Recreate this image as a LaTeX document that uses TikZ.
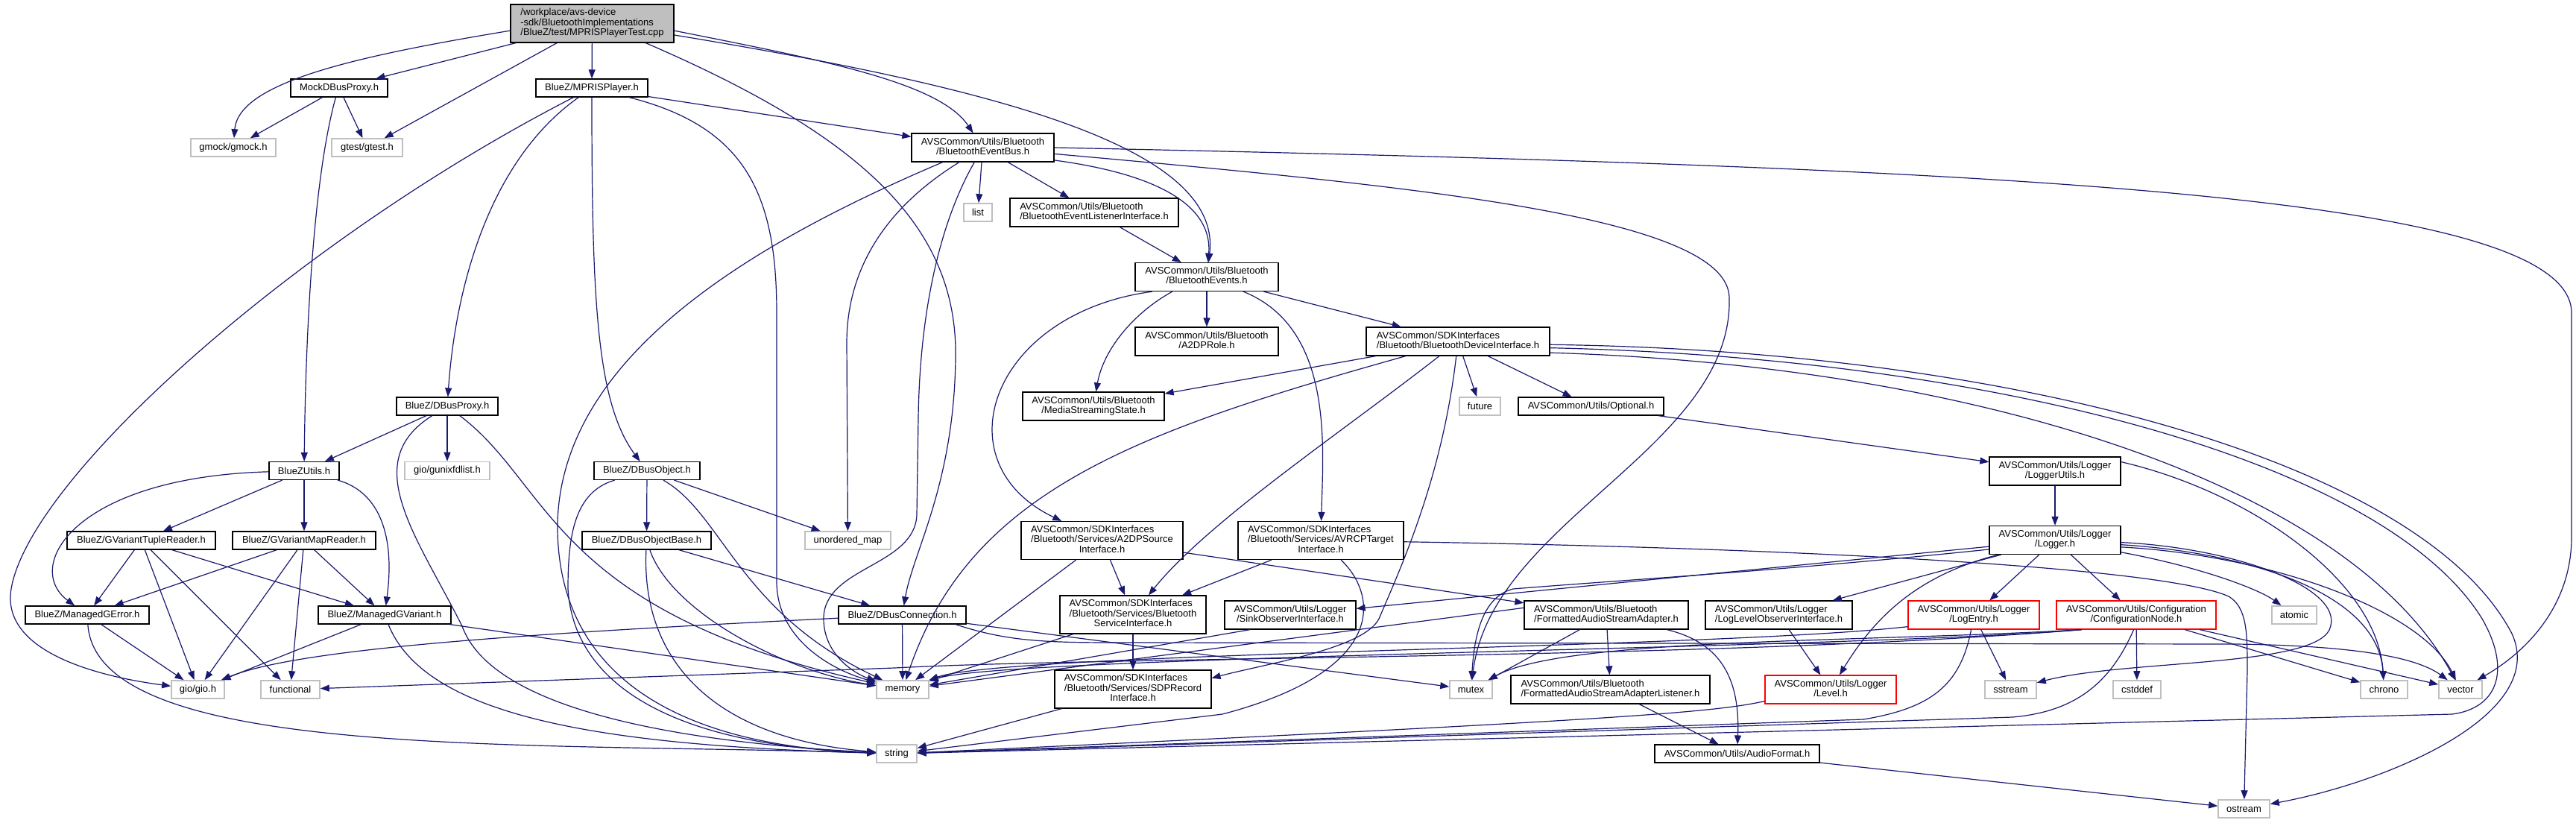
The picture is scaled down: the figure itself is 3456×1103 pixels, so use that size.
\documentclass[tikz,border=0pt]{standalone}
\usepackage{fontspec}
\setmainfont{Liberation Sans}
\usetikzlibrary{arrows.meta}
\definecolor{depblue}{RGB}{25,25,112}
\definecolor{sysgray}{RGB}{191,191,191}
% multi-line labels: left aligned, last line centred
\newcommand{\hdrlines}[1]{\begin{tabular}{@{}l@{}}#1\end{tabular}}
\newcommand{\hdrlast}[1]{\multicolumn{1}{@{}c@{}}{#1}}
\tikzset{
  hdr/.style={draw=black, fill=white, line width=0.6pt, inner sep=1pt, minimum height=12pt,
    font=\fontsize{6.5}{6.67}\selectfont},
  sys/.style={hdr, draw=sysgray, line width=0.8pt},
  trunc/.style={hdr, draw=red},
  root/.style={hdr, fill=sysgray},
  rows2/.style={minimum height=19pt},
  rows3/.style={minimum height=25.5pt},
  dep/.style={draw=depblue, line width=0.6pt, -{Triangle[length=6pt,width=4.5pt]}}
}

\begin{document}
\begin{tikzpicture}[x=0.5pt, y=-0.5pt]
        \useasboundingbox (0,0) rectangle (3456,1103);
        \fill[white] (0,0) rectangle (3456,1103);
        % Header-header
        \node[root, rows3, minimum width=109.5pt] (main) at (794.5,31.5) {\hdrlines{/workplace/avs-device\\-sdk/BluetoothImplementations\\/BlueZ/test/MPRISPlayerTest.cpp}};
        \node[hdr, minimum width=65pt] (mock) at (455,118) {MockDBusProxy.h};
        \node[hdr, minimum width=75pt] (mpris) at (794,118) {BlueZ/MPRISPlayer.h};
        \node[sys, minimum width=57pt] (gmock) at (313,198) {gmock/gmock.h};
        \node[sys, minimum width=47.5pt] (gtest) at (492.5,198) {gtest/gtest.h};
        \node[hdr, rows2, minimum width=95.5pt] (evbus) at (1318.5,198) {\hdrlines{AVSCommon/Utils/Bluetooth\\\hdrlast{/BluetoothEventBus.h}}};
        \node[sys, minimum width=19pt] (list) at (1312,285) {list};
        \node[hdr, rows2, minimum width=113pt] (evlist) at (1468,285) {\hdrlines{AVSCommon/Utils/Bluetooth\\\hdrlast{/BluetoothEventListenerInterface.h}}};
        \node[hdr, rows2, minimum width=96pt] (events) at (1619,371.5) {\hdrlines{AVSCommon/Utils/Bluetooth\\\hdrlast{/BluetoothEvents.h}}};
        \node[hdr, rows2, minimum width=96pt] (a2dprole) at (1619,458) {\hdrlines{AVSCommon/Utils/Bluetooth\\\hdrlast{/A2DPRole.h}}};
        \node[hdr, rows2, minimum width=123pt] (devif) at (1956,458) {\hdrlines{AVSCommon/SDKInterfaces\\\hdrlast{/Bluetooth/BluetoothDeviceInterface.h}}};
        \node[hdr, minimum width=68pt] (dbusproxy) at (600,545) {BlueZ/DBusProxy.h};
        \node[hdr, rows2, minimum width=95pt] (mss) at (1467,545) {\hdrlines{AVSCommon/Utils/Bluetooth\\\hdrlast{/MediaStreamingState.h}}};
        \node[sys, minimum width=27.5pt] (future) at (1985.5,545) {future};
        \node[hdr, minimum width=97.5pt] (optional) at (2134.5,545) {AVSCommon/Utils/Optional.h};
        \node[hdr, minimum width=47pt] (bluezutils) at (408,631.5) {BlueZUtils.h};
        \node[sys, minimum width=57pt] (gunixfd) at (600,631.5) {gio/gunixfdlist.h};
        \node[hdr, minimum width=71pt] (dbusobj) at (868,631.5) {BlueZ/DBusObject.h};
        \node[hdr, rows2, minimum width=88pt] (loggerutils) at (2757,632) {\hdrlines{AVSCommon/Utils/Logger\\\hdrlast{/LoggerUtils.h}}};
        \node[hdr, minimum width=99.5pt] (tuple) at (189.5,725) {BlueZ/GVariantTupleReader.h};
        \node[hdr, minimum width=96pt] (mapreader) at (408,725) {BlueZ/GVariantMapReader.h};
        \node[hdr, minimum width=86.5pt] (dbusobjbase) at (867.5,725) {BlueZ/DBusObjectBase.h};
        \node[sys, minimum width=57.5pt] (umap) at (1137.5,725) {unordered\_map};
        \node[hdr, rows3, minimum width=108.5pt] (a2dpsrc) at (1478.5,725) {\hdrlines{AVSCommon/SDKInterfaces\\/Bluetooth/Services/A2DPSource\\\hdrlast{Interface.h}}};
        \node[hdr, rows3, minimum width=111pt] (avrcp) at (1772,725) {\hdrlines{AVSCommon/SDKInterfaces\\/Bluetooth/Services/AVRCPTarget\\\hdrlast{Interface.h}}};
        \node[hdr, rows2, minimum width=88pt] (logger) at (2757,724.5) {\hdrlines{AVSCommon/Utils/Logger\\\hdrlast{/Logger.h}}};
        \node[hdr, minimum width=83pt] (gerror) at (117,825) {BlueZ/ManagedGError.h};
        \node[hdr, minimum width=89pt] (gvariant) at (516,825) {BlueZ/ManagedGVariant.h};
        \node[hdr, minimum width=85.5pt] (dbusconn) at (1210.5,825) {BlueZ/DBusConnection.h};
        \node[hdr, rows3, minimum width=98pt] (svcif) at (1520,824.5) {\hdrlines{AVSCommon/SDKInterfaces\\/Bluetooth/Services/Bluetooth\\\hdrlast{ServiceInterface.h}}};
        \node[hdr, rows2, minimum width=88pt] (sinkobs) at (1731,825) {\hdrlines{AVSCommon/Utils/Logger\\\hdrlast{/SinkObserverInterface.h}}};
        \node[hdr, rows2, minimum width=110pt] (fasa) at (2155,825) {\hdrlines{AVSCommon/Utils/Bluetooth\\\hdrlast{/FormattedAudioStreamAdapter.h}}};
        \node[hdr, rows2, minimum width=98.5pt] (loglevel) at (2386.5,825) {\hdrlines{AVSCommon/Utils/Logger\\\hdrlast{/LogLevelObserverInterface.h}}};
        \node[trunc, rows2, minimum width=88pt] (logentry) at (2648,825) {\hdrlines{AVSCommon/Utils/Logger\\\hdrlast{/LogEntry.h}}};
        \node[trunc, rows2, minimum width=107pt] (confnode) at (2866,825) {\hdrlines{AVSCommon/Utils/Configuration\\\hdrlast{/ConfigurationNode.h}}};
        \node[sys, minimum width=30pt] (atomic) at (3078,825) {atomic};
        \node[sys, minimum width=35.5pt] (gio) at (265.5,925) {gio/gio.h};
        \node[sys, minimum width=39.5pt] (functional) at (389.5,925) {functional};
        \node[sys, minimum width=35pt] (memory) at (1211,925) {memory};
        \node[hdr, rows3, minimum width=105pt] (sdprec) at (1520,924.5) {\hdrlines{AVSCommon/SDKInterfaces\\/Bluetooth/Services/SDPRecord\\\hdrlast{Interface.h}}};
        \node[sys, minimum width=28.5pt] (mutex) at (1973.5,925) {mutex};
        \node[hdr, rows2, minimum width=133.5pt] (fasal) at (2160.5,925) {\hdrlines{AVSCommon/Utils/Bluetooth\\\hdrlast{/FormattedAudioStreamAdapterListener.h}}};
        \node[trunc, rows2, minimum width=88pt] (level) at (2456,925) {\hdrlines{AVSCommon/Utils/Logger\\\hdrlast{/Level.h}}};
        \node[sys, minimum width=34.5pt] (sstream) at (2697.5,925) {sstream};
        \node[sys, minimum width=32pt] (cstddef) at (2867,925) {cstddef};
        \node[sys, minimum width=31.5pt] (chrono) at (3198.5,925) {chrono};
        \node[sys, minimum width=29pt] (vector) at (3301,925) {vector};
        \node[sys, minimum width=27pt] (string) at (1203,1011) {string};
        \node[hdr, minimum width=110.5pt] (audiofmt) at (2330.5,1011) {AVSCommon/Utils/AudioFormat.h};
        \node[sys, minimum width=34.5pt] (ostream) at (3010.5,1085) {ostream};

        % Include dari file test
        \draw[dep] (main.185) .. controls (480,75) and (320,110) .. (gmock);
        \draw[dep] (main) -- (mock);
        \draw[dep] (main) -- (gtest);
        \draw[dep] (main) -- (mpris);
        \draw[dep] (main.-5) .. controls (1100,80) and (1260,110) .. (evbus);
        \draw[dep] (main.-8) .. controls (1350,120) and (1640,200) .. (events);
        \draw[dep] (main.340) .. controls (1150,180) and (1285,300) .. (1282,480) .. controls (1280,650) and (1225,740) .. (dbusconn);
        \draw[dep] (mock) -- (gmock);
        \draw[dep] (mock) -- (gtest);
        \draw[dep] (mock.-110) .. controls (420,240) and (410,450) .. (bluezutils);
        % MPRISPlayer dan event bus
        \draw[dep] (mpris) .. controls (400,320) and (40,640) .. (15,790) .. controls (0,880) and (150,910) .. (gio);
        \draw[dep] (mpris) .. controls (650,220) and (610,400) .. (dbusproxy);
        \draw[dep] (mpris) .. controls (794,400) and (800,540) .. (dbusobj);
        \draw[dep] (mpris) .. controls (1000,170) and (1042,260) .. (1042,420) -- (1042,780) .. controls (1042,860) and (1120,900) .. (memory);
        \draw[dep] (mpris) -- (evbus);
        \draw[dep] (evbus) -- (list);
        \draw[dep] (evbus) -- (evlist);
        \draw[dep] (evbus.-10) .. controls (1600,240) and (1625,300) .. (events);
        \draw[dep] (evbus) .. controls (1170,290) and (1136,380) .. (1136,460) -- (umap);
        \draw[dep] (evbus) .. controls (1260,300) and (1234,420) .. (1232,560) -- (1230,690) .. controls (1228,760) and (1105,760) .. (1105,830) .. controls (1105,880) and (1150,905) .. (memory);
        \draw[dep] (evbus.-160) .. controls (1000,330) and (755,480) .. (748,700) .. controls (745,900) and (900,1000) .. (string);
        \draw[dep] (evbus.-5) .. controls (1900,250) and (2320,290) .. (2320,400) .. controls (2325,600) and (2000,700) .. (mutex);
        \draw[dep] (evbus.east) .. controls (2700,225) and (3450,260) .. (3450,420) -- (3450,720) .. controls (3450,820) and (3380,880) .. (vector);
        \draw[dep] (evlist) -- (events);
        % BluetoothEvents
        \draw[dep] (events.-165) .. controls (1330,420) and (1260,620) .. (a2dpsrc);
        \draw[dep] (events.-157) .. controls (1520,420) and (1480,470) .. (mss);
        \draw[dep] (events) -- (a2dprole);
        \draw[dep] (events) .. controls (1790,440) and (1775,600) .. (avrcp);
        \draw[dep] (events) -- (devif);
        % BluetoothDeviceInterface
        \draw[dep] (devif) -- (mss);
        \draw[dep] (devif) .. controls (1520,580) and (1300,660) .. (memory);
        \draw[dep] (devif) .. controls (1800,580) and (1620,700) .. (svcif);
        \draw[dep] (devif) .. controls (1935,640) and (1880,760) .. (1850,830) .. controls (1830,870) and (1700,890) .. (sdprec.8);
        \draw[dep] (devif) -- (future);
        \draw[dep] (devif) -- (optional);
        \draw[dep] (devif.-2) .. controls (2700,470) and (3250,620) .. (3370,850) .. controls (3420,960) and (3200,1050) .. (ostream);
        \draw[dep] (devif.-4) .. controls (2680,480) and (3200,620) .. (3330,830) .. controls (3370,900) and (3350,950) .. (3290,958) -- (string);
        \draw[dep] (devif.-7) .. controls (2650,490) and (3150,650) .. (vector);
        \draw[dep] (optional) -- (loggerutils);
        % Logger
        \draw[dep] (loggerutils) -- (logger);
        \draw[dep] (loggerutils.8) .. controls (3020,660) and (3190,780) .. (chrono);
        \draw[dep] (logger) -- (sinkobs);
        \draw[dep] (logger.-172) .. controls (2400,765) and (2150,780) .. (2030,790) .. controls (1990,800) and (1978,850) .. (mutex);
        \draw[dep] (logger) -- (loglevel);
        \draw[dep] (logger) .. controls (2580,770) and (2520,820) .. (level);
        \draw[dep] (logger) -- (logentry);
        \draw[dep] (logger) -- (confnode);
        \draw[dep] (logger) .. controls (2950,760) and (3030,790) .. (atomic);
        \draw[dep] (logger.-2) .. controls (3000,735) and (3150,790) .. (3125,845) .. controls (3100,895) and (2850,885) .. (sstream);
        \draw[dep] (logger.-4) .. controls (3000,740) and (3190,790) .. (chrono);
        \draw[dep] (logger.-6) .. controls (3050,745) and (3250,820) .. (vector);
        \draw[dep] (confnode.-165) .. controls (2500,870) and (1350,880) .. (memory);
        \draw[dep] (confnode.-165) .. controls (2500,862) and (2100,855) .. (mutex);
        \draw[dep] (confnode.-165) .. controls (2300,885) and (1500,880) .. (1200,896) -- (functional);
        \draw[dep] (confnode.-100) .. controls (2830,920) and (2780,955) .. (2700,962) -- (string);
        \draw[dep] (confnode) -- (cstddef);
        \draw[dep] (confnode) -- (chrono);
        \draw[dep] (confnode) -- (vector);
        \draw[dep] (logentry) -- (sstream);
        \draw[dep] (logentry.-100) .. controls (2630,920) and (2590,950) .. (2500,965) -- (string);
        \draw[dep] (logentry.-170) .. controls (2300,870) and (1350,875) .. (memory);
        \draw[dep] (level.-170) .. controls (2300,955) and (2200,965) .. (string);
        \draw[dep] (loglevel) -- (level);
        \draw[dep] (sinkobs.-160) -- (memory);
        % Services dan audio
        \draw[dep] (svcif) -- (memory);
        \draw[dep] (svcif) -- (sdprec);
        \draw[dep] (sdprec) -- (string);
        \draw[dep] (a2dpsrc) -- (memory);
        \draw[dep] (a2dpsrc) -- (svcif);
        \draw[dep] (a2dpsrc) -- (fasa);
        \draw[dep] (avrcp) -- (svcif);
        \draw[dep] (avrcp) .. controls (1850,800) and (1860,900) .. (1640,958) -- (string);
        \draw[dep] (avrcp) .. controls (2400,735) and (2900,760) .. (2990,800) .. controls (3015,815) and (3015,850) .. (3015,900) -- (ostream);
        \draw[dep] (fasa.175) -- (memory);
        \draw[dep] (fasa) -- (mutex);
        \draw[dep] (fasa) -- (fasal);
        \draw[dep] (fasa) .. controls (2300,860) and (2335,900) .. (audiofmt);
        \draw[dep] (fasal) -- (audiofmt);
        \draw[dep] (audiofmt) -- (ostream);
        % BlueZ (kiri)
        \draw[dep] (dbusproxy) -- (bluezutils);
        \draw[dep] (dbusproxy) .. controls (480,620) and (560,720) .. (620,840) .. controls (660,950) and (900,995) .. (string);
        \draw[dep] (dbusproxy) -- (gunixfd);
        \draw[dep] (dbusproxy) .. controls (740,650) and (740,820) .. (memory);
        \draw[dep] (bluezutils) .. controls (100,640) and (30,760) .. (gerror);
        \draw[dep] (bluezutils) -- (tuple);
        \draw[dep] (bluezutils) -- (mapreader);
        \draw[dep] (bluezutils) .. controls (510,660) and (530,720) .. (gvariant);
        \draw[dep] (tuple) -- (gerror);
        \draw[dep] (tuple) -- (gio);
        \draw[dep] (tuple) -- (functional);
        \draw[dep] (tuple) -- (gvariant);
        \draw[dep] (mapreader) -- (gerror);
        \draw[dep] (mapreader) -- (gio);
        \draw[dep] (mapreader) -- (functional);
        \draw[dep] (mapreader) -- (gvariant);
        \draw[dep] (gerror) .. controls (130,1020) and (700,995) .. (string);
        \draw[dep] (gerror) -- (gio);
        \draw[dep] (gvariant) -- (gio);
        \draw[dep] (gvariant) .. controls (570,960) and (800,1000) .. (string);
        \draw[dep] (gvariant) -- (memory);
        \draw[dep] (dbusobj) .. controls (770,660) and (762,720) .. (762,790) .. controls (770,920) and (905,1000) .. (string);
        \draw[dep] (dbusobj) -- (dbusobjbase);
        \draw[dep] (dbusobj) .. controls (970,690) and (990,820) .. (memory);
        \draw[dep] (dbusobj) -- (umap);
        \draw[dep] (dbusobjbase) .. controls (860,880) and (950,990) .. (string);
        \draw[dep] (dbusobjbase) .. controls (900,820) and (1050,900) .. (memory);
        \draw[dep] (dbusobjbase) -- (dbusconn);
        \draw[dep] (dbusconn) .. controls (700,850) and (400,870) .. (gio);
        \draw[dep] (dbusconn) -- (memory);
        \draw[dep] (dbusconn) -- (mutex);
        \draw[dep] (dbusconn.-10) .. controls (1350,860) and (1400,862) .. (1500,862) -- (3000,864) .. controls (3150,866) and (3240,880) .. (vector);
      \end{tikzpicture}
\end{document}
